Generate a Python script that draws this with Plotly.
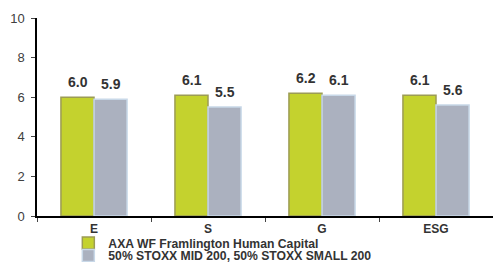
import plotly.graph_objects as go

categories = ["E", "S", "G", "ESG"]
fund_name = "AXA WF Framlington Human Capital"
bench_name = "50% STOXX MID 200, 50% STOXX SMALL 200"
fund_values = [6.0, 6.1, 6.2, 6.1]
bench_values = [5.9, 5.5, 6.1, 5.6]
y_ticks = [0, 2, 4, 6, 8, 10]

FONT = "Liberation Sans, Arial, sans-serif"
LEG_FONT = dict(family="Liberation Sans, Arial, sans-serif", size=12.2, color="#333333", weight="bold")

fig = go.Figure()
fig.add_trace(go.Bar(
    x=categories, y=fund_values, name=fund_name, legend="legend",
    marker=dict(color="#C4D22E", line=dict(color="#9C9C55", width=1.5)),
))
fig.add_trace(go.Bar(
    x=categories, y=bench_values, name=bench_name, legend="legend2",
    marker=dict(color="#ABB1BF", line=dict(color="#C8D8E8", width=1.5)),
))

annotations = []
for i, c in enumerate(categories):
    for vals, shift in ((fund_values, -16.5), (bench_values, 16.5)):
        annotations.append(dict(
            x=c, y=vals[i], xref="x", yref="y", xshift=shift, yshift=5,
            text=f"<b>{vals[i]:.1f}</b>", showarrow=False, yanchor="bottom",
            font=dict(family=FONT, size=14, color="#333333"),
        ))

leg_common = dict(xanchor="left", yanchor="top", font=LEG_FONT,
                  bgcolor="rgba(0,0,0,0)", itemwidth=30)
fig.update_layout(
    width=493, height=262,
    margin=dict(l=37, r=0, t=18, b=46, autoexpand=False),
    paper_bgcolor="white", plot_bgcolor="white",
    barmode="group", bargap=0.42, bargroupgap=0,
    showlegend=True,
    legend=dict(x=0.0687, y=-0.063, **leg_common),
    legend2=dict(x=0.0687, y=-0.126, **leg_common),
    annotations=annotations,
    font=dict(family=FONT),
)
fig.update_xaxes(
    showline=True, linecolor="black", linewidth=1.5,
    ticks="outside", ticklen=4, tickcolor="#444", tickson="boundaries",
    tickfont=dict(family=FONT, size=12, color="#333333", weight="bold"),
    ticklabelstandoff=1, automargin=False,
    showgrid=False, range=[-0.5, 3.5],
)
fig.update_yaxes(
    range=[0, 10], tickvals=y_ticks, showline=True, linecolor="black", linewidth=1.5,
    ticks="outside", ticklen=4, tickcolor="#444", ticklabelstandoff=4, automargin=False,
    tickfont=dict(family=FONT, size=13, color="#404040"),
    showgrid=False, zeroline=False,
)

fig.write_html("out.html", config={"displayModeBar": False},
               post_script="document.body.style.margin='0';")
